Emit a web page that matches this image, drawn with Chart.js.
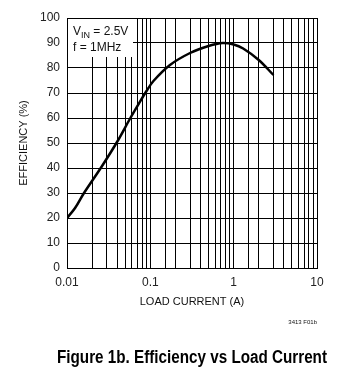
<!DOCTYPE html>
<html>
<head>
<meta charset="utf-8">
<script src="https://cdn.jsdelivr.net/npm/chart.js@4/dist/chart.umd.min.js"></script>
<style>
  html, body { margin: 0; padding: 0; background: #fff; }
  #wrap { position: relative; width: 347px; height: 382px; }
</style>
</head>
<body>
<div id="wrap"><canvas id="effChart" width="347" height="382"></canvas></div>
<script>
// data
const loadCurrent = [0.01, 0.0125, 0.016, 0.026, 0.04, 0.0576, 0.072, 0.09, 0.109, 0.172, 0.3, 0.5, 0.74, 1, 1.3, 2.0, 3.0];
const efficiency  = [20, 24, 30, 40.5, 50.5, 60, 65.5, 70.8, 74.8, 81.2, 86, 88.8, 90, 89.4, 87.8, 83.2, 77.2];
const xTickLabels = { 0.01: '0.01', 0.1: '0.1', 1: '1', 10: '10' };
const noteLines = ['V', 'IN', ' = 2.5V', 'f = 1MHz'];

const FONT = '"Liberation Sans", Arial, sans-serif';

// axis titles, note box and figure caption
const textPlugin = {
  id: 'texts',
  beforeDatasetsDraw(chart) {
    const ctx = chart.ctx;
    const a = chart.chartArea;
    ctx.save();
    ctx.fillStyle = '#fff';
    ctx.fillRect(a.left + 1, a.top + 1, 65, 38);
    ctx.fillStyle = '#111';
    ctx.textBaseline = 'alphabetic';
    ctx.font = '12px ' + FONT;
    let x = a.left + 6;
    ctx.fillText(noteLines[0], x, a.top + 17);
    x += ctx.measureText(noteLines[0]).width;
    ctx.font = '9px ' + FONT;
    ctx.fillText(noteLines[1], x, a.top + 20);
    x += ctx.measureText(noteLines[1]).width;
    ctx.font = '12px ' + FONT;
    ctx.fillText(noteLines[2], x, a.top + 17);
    ctx.fillText(noteLines[3], a.left + 6, a.top + 33);
    ctx.restore();
  },
  afterDraw(chart) {
    const ctx = chart.ctx;
    const a = chart.chartArea;
    ctx.save();
    ctx.fillStyle = '#111';
    ctx.textAlign = 'center';
    ctx.textBaseline = 'middle';
    ctx.font = '11px ' + FONT;
    ctx.fillText('LOAD CURRENT (A)', 192, 302);
    ctx.save();
    ctx.translate(24, (a.top + a.bottom) / 2);
    ctx.rotate(-Math.PI / 2);
    ctx.fillText('EFFICIENCY (%)', 0, 0);
    ctx.restore();
    ctx.textAlign = 'right';
    ctx.font = '6px ' + FONT;
    ctx.fillText('3413 F01b', 317, 322);
    // caption, squeezed to a condensed look
    ctx.font = 'bold 18px "Liberation Sans Narrow", ' + FONT;
    const cap = 'Figure 1b. Efficiency vs Load Current';
    const w = ctx.measureText(cap).width;
    ctx.textAlign = 'left';
    ctx.translate(57, 358);
    ctx.scale(270 / w, 1);
    ctx.fillStyle = '#000';
    ctx.fillText(cap, 0, 0);
    ctx.restore();
  }
};

const ctx = document.getElementById('effChart').getContext('2d');
const chart = new Chart(ctx, {
  type: 'line',
  data: {
    datasets: [{
      data: loadCurrent.map((c, i) => ({ x: c, y: efficiency[i] })),
      borderColor: '#000',
      borderWidth: 2.5,
      pointRadius: 0,
      fill: false,
      tension: 0.35
    }]
  },
  options: {
    responsive: false,
    animation: false,
    layout: { padding: { left: 0, top: 18, right: 30, bottom: 0 } },
    plugins: { legend: { display: false }, tooltip: { enabled: false } },
    scales: {
      x: {
        type: 'logarithmic',
        min: 0.01,
        max: 10,
        afterFit: s => { s.height = 114; },
        grid: { color: '#000', lineWidth: 1, drawTicks: false },
        border: { color: '#000', width: 1 },
        ticks: {
          autoSkip: false,
          maxRotation: 0,
          padding: 7,
          color: '#222',
          font: { family: FONT, size: 12 },
          callback: v => xTickLabels[v] || ''
        }
      },
      y: {
        min: 0,
        max: 100,
        afterFit: s => { s.width = 67; },
        grid: { color: '#000', lineWidth: 1, drawTicks: false },
        border: { color: '#000', width: 1 },
        ticks: {
          stepSize: 10,
          padding: 7,
          color: '#222',
          font: { family: FONT, size: 12 }
        }
      }
    }
  },
  plugins: [textPlugin]
});
</script>
</body>
</html>
